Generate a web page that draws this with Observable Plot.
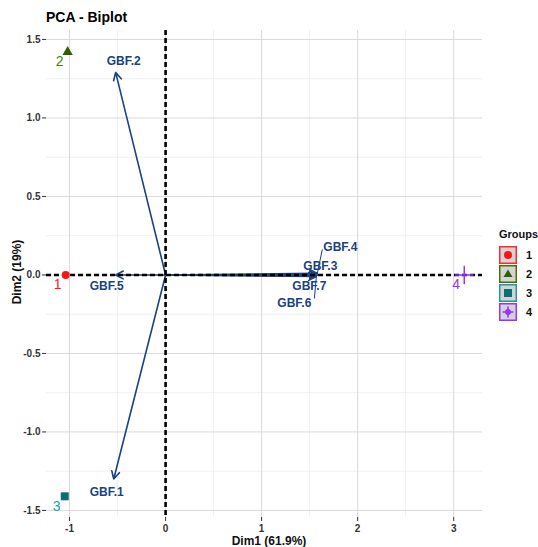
<!DOCTYPE html>
<html><head><meta charset="utf-8">
<script src="https://cdn.jsdelivr.net/npm/d3@7"></script>
<script src="https://cdn.jsdelivr.net/npm/@observablehq/plot@0.6"></script>
<style>
body{margin:0;background:#fff;font-family:"Liberation Sans",Arial,sans-serif;}
#wrap{position:relative;width:538px;height:547px;overflow:hidden;background:#fff}
#title{position:absolute;left:46px;top:9px;font-size:14px;font-weight:bold;color:#000;line-height:16px}
#chart{position:absolute;left:0;top:28px}
#xlab{position:absolute;left:0;width:538px;top:535px;text-align:center;font-size:12px;font-weight:bold;line-height:13px;color:#111}
#ylab{position:absolute;left:11px;top:272px;font-size:12px;font-weight:bold;color:#111;transform-origin:0 0;transform:rotate(-90deg) translate(-50%,0);white-space:nowrap;line-height:13px}
#legend{position:absolute;left:499px;top:227px;font-size:11px;font-weight:bold;color:#111}
.lrow{position:absolute;left:0;height:18px;display:flex;align-items:center}
</style></head><body>
<div id="wrap">
<div id="title">PCA - Biplot</div>
<div id="chart"></div>
<div id="xlab">Dim1 (61.9%)</div>
<div id="ylab">Dim2 (19%)</div>
<div id="legend"></div>
</div>
<script>
// ---- data ----
const groups = ["1", "2", "3", "4"];
const groupDim1 = [-1.04, -1.02, -1.05, 3.11];
const groupDim2 = [0.0, 1.42, -1.41, 0.0];
const varNames = ["GBF.1", "GBF.2", "GBF.3", "GBF.4", "GBF.5", "GBF.6", "GBF.7"];
const varDim1 = [-0.54, -0.52, 1.58, 1.58, -0.52, 1.57, 1.58];
const varDim2 = [-1.30, 1.29, 0.0, 0.01, 0.0, -0.01, 0.0];
const xTicks = [-1, 0, 1, 2, 3];
const xMinor = [-0.5, 0.5, 1.5, 2.5];
const yTicks = [-1.5, -1.0, -0.5, 0.0, 0.5, 1.0, 1.5];
const yMinor = [-1.25, -0.75, -0.25, 0.25, 0.75, 1.25];

// ---- styles / layout ----
const groupSymColor = {"1": "#ff1414", "2": "#2f5f00", "3": "#0b6f73", "4": "#9b30ff"};
const groupTxtColor = {"1": "#ff1a1a", "2": "#3f8a00", "3": "#1aa3a8", "4": "#9b30ff"};
const groupBorder = {"1": "#ff2a2a", "2": "#4b7000", "3": "#1f9aa8", "4": "#9b30ff"};
const arrowColor = "#1b4282";
// label offsets in pixels (repelled labels)
const varLabelOffset = {
  "GBF.1": [-7, 13], "GBF.2": [8, -11], "GBF.3": [3, -9], "GBF.4": [23, -26],
  "GBF.5": [-9, 11], "GBF.6": [-22, 27], "GBF.7": [-8, 11]
};
const connectorEnd = {"GBF.4": [5, -24], "GBF.6": [-2, 22]};

const W = 538, H = 519, ML = 46, MR = 56, MT = 2, MB = 30;
const xDom = [-1.24, 3.30], yDom = [-1.545, 1.557];
const kx = (W - ML - MR) / (xDom[1] - xDom[0]);
const ky = (H - MT - MB) / (yDom[1] - yDom[0]);

const pts = groups.map((g, i) => ({g, x: groupDim1[i], y: groupDim2[i]}));
const vars = varNames.map((n, i) => ({n, x: varDim1[i], y: varDim2[i]}));
const connectors = vars.filter(d => connectorEnd[d.n]).map(d => ({
  x1: d.x, y1: d.y,
  x2: d.x + connectorEnd[d.n][0] / kx, y2: d.y - connectorEnd[d.n][1] / ky
}));

const font = "Liberation Sans, Arial, sans-serif";
const labelMarks = vars.map(v => Plot.text([v], {
  x: "x", y: "y", text: "n", fill: arrowColor, fontSize: 12, fontWeight: "bold",
  dx: varLabelOffset[v.n][0], dy: varLabelOffset[v.n][1], fontFamily: font
}));

const chart = Plot.plot({
  width: W, height: H,
  marginLeft: ML, marginRight: MR, marginTop: MT, marginBottom: MB,
  style: {fontFamily: font, background: "transparent", overflow: "visible"},
  x: {domain: xDom, label: null},
  y: {domain: yDom, label: null},
  color: {type: "identity"},
  marks: [
    Plot.ruleX(xMinor, {stroke: "#ececec", strokeWidth: 0.8}),
    Plot.ruleY(yMinor, {stroke: "#ececec", strokeWidth: 0.8}),
    Plot.ruleX(xTicks, {stroke: "#d9d9d9", strokeWidth: 1}),
    Plot.ruleY(yTicks, {stroke: "#d9d9d9", strokeWidth: 1}),
    Plot.axisX({ticks: xTicks, tickSize: 4, tickPadding: 3, tickFormat: d => String(d),
      fontSize: 10, fontWeight: "bold", fill: "#333", stroke: "#333", label: null}),
    Plot.axisY({ticks: yTicks, tickSize: 4, tickPadding: 2, tickFormat: d => d.toFixed(1),
      fontSize: 10, fontWeight: "bold", fill: "#333", stroke: "#333", label: null}),
    Plot.arrow(vars, {x1: () => 0, y1: () => 0, x2: "x", y2: "y",
      stroke: arrowColor, strokeWidth: 1.6, headLength: 8, headAngle: 55}),
    Plot.link(connectors, {x1: "x1", y1: "y1", x2: "x2", y2: "y2", stroke: arrowColor, strokeWidth: 1}),
    Plot.ruleX([0], {stroke: "#000", strokeWidth: 2.6, strokeDasharray: "5,3"}),
    Plot.ruleY([0], {stroke: "#000", strokeWidth: 2.6, strokeDasharray: "5,3"}),
    Plot.dot(pts.filter(d => d.g === "1"), {x: "x", y: "y", symbol: () => "circle", r: 4, fill: d => groupSymColor[d.g]}),
    Plot.dot(pts.filter(d => d.g === "2"), {x: "x", y: "y", symbol: () => "triangle", r: 3.8, fill: d => groupSymColor[d.g]}),
    Plot.dot(pts.filter(d => d.g === "3"), {x: "x", y: "y", symbol: () => "square", r: 4.5, fill: d => groupSymColor[d.g]}),
    Plot.dot(pts.filter(d => d.g === "4"), {x: "x", y: "y", symbol: () => "plus", r: 6, stroke: d => groupSymColor[d.g], strokeWidth: 1.5}),
    Plot.text(pts, {x: "x", y: "y", text: "g", fill: d => groupTxtColor[d.g], fontSize: 14, dx: -8, dy: 10, fontFamily: font}),
    ...labelMarks
  ]
});
document.getElementById("chart").appendChild(chart);

// ---- legend ----
const leg = document.getElementById("legend");
leg.innerHTML = '<div style="position:absolute;left:0;top:1px;font-size:11px;white-space:nowrap">Groups</div>';
const symPaths = {
  "1": c => `<circle cx="9" cy="9" r="4" fill="${c}"/>`,
  "2": c => `<path d="M9,4.5 L13.5,12 L4.5,12 Z" fill="${c}"/>`,
  "3": c => `<rect x="5" y="5" width="8" height="8" fill="${c}"/>`,
  "4": c => `<path d="M9,3.5 V14.5 M3.5,9 H14.5" stroke="${c}" stroke-width="1.6"/><circle cx="9" cy="9" r="3" fill="${c}"/>`
};
groups.forEach((g, i) => {
  const row = document.createElement("div");
  row.className = "lrow";
  row.style.top = (19 + i * 19) + "px";
  row.innerHTML = `<svg width="18" height="18" style="display:block"><rect x="0.75" y="0.75" width="16.5" height="16.5" fill="#d4d4d4" stroke="${groupBorder[g]}" stroke-width="1.5"/>${symPaths[g](groupSymColor[g])}</svg><span style="margin-left:9px;font-size:11px">${g}</span>`;
  leg.appendChild(row);
});
</script>
</body></html>
